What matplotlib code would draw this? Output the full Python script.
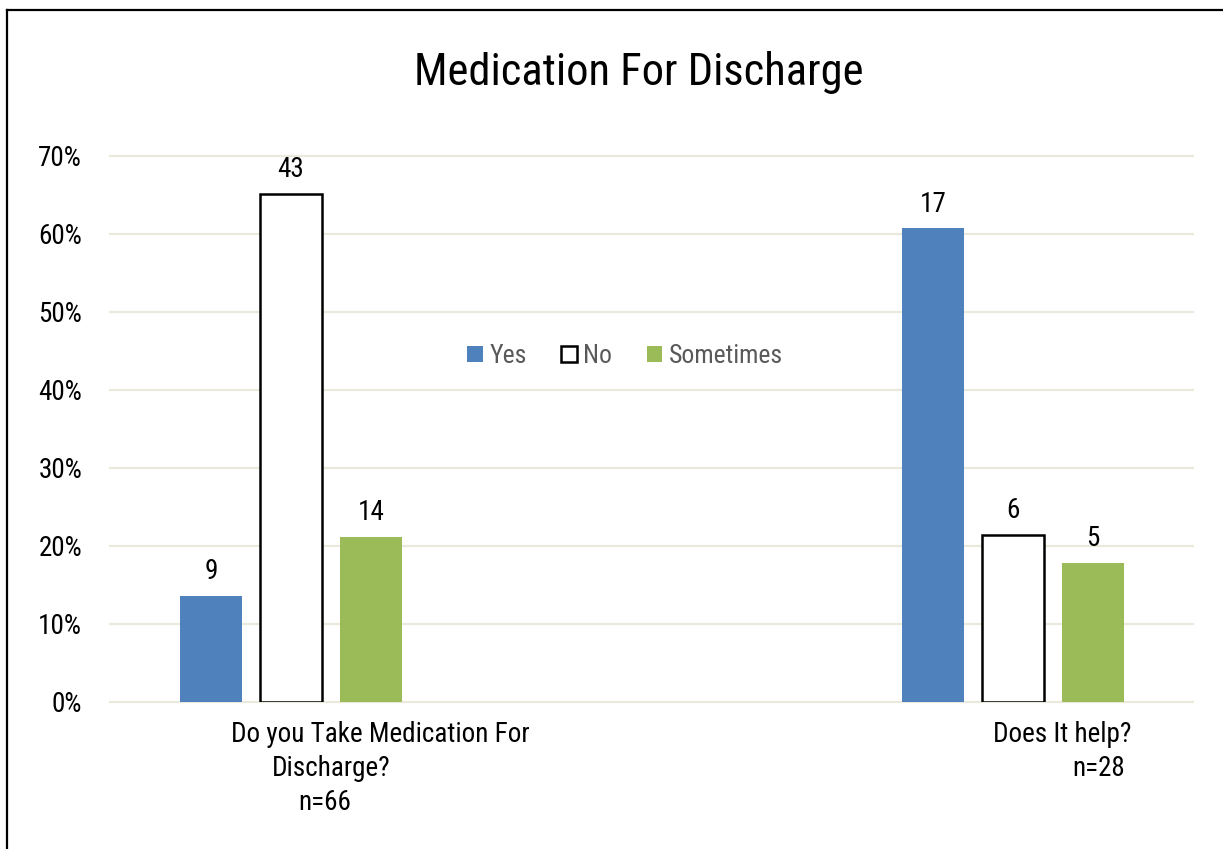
import numpy as np
import matplotlib
matplotlib.use('Agg')
import matplotlib.pyplot as plt
from matplotlib.lines import Line2D

plt.rcParams['font.family'] = ['Roboto Condensed', 'DejaVu Sans']

# data
questions = ['Do you Take Medication For Discharge?', 'Does It help?']
n_resp = [66, 28]
answers = ['Yes', 'No', 'Sometimes']
yes_counts = [9, 17]
no_counts = [43, 6]
some_counts = [14, 5]

colors = ['#4F81BD', '#FFFFFF', '#9BBB59']
edges = ['#4F81BD', '#000000', '#9BBB59']
grid_col = '#EBE8DC'


def main():
    fig = plt.figure(figsize=(12.23, 8.49), dpi=100)
    ax = fig.add_axes([110/1223, 1-702/849, 1083/1223, 546/849])

    x = np.arange(len(questions))
    width = 0.086
    step = 0.111
    series = [yes_counts, no_counts, some_counts]
    for i, counts in enumerate(series):
        pct = np.array(counts) / np.array(n_resp)
        bars = ax.bar(x + (i-1)*step, pct, width, color=colors[i], edgecolor=edges[i],
                      linewidth=1.8 if i == 1 else 0, label=answers[i], zorder=3)
        for b, c in zip(bars, counts):
            ax.annotate(str(c), (b.get_x() + b.get_width()/2, b.get_height()),
                        xytext=(0, 12), textcoords='offset points', ha='center',
                        va='baseline', fontsize=19.5, color='black')

    ax.set_xlim(-0.2507, 1.2493)
    ax.set_ylim(0, 0.7)
    ax.set_yticks(np.arange(0, 0.71, 0.1))
    ax.set_yticklabels(['%d%%' % v for v in range(0, 71, 10)], fontsize=19.5)
    ax.tick_params(axis='y', length=0, pad=20)
    ax.set_xticks([])
    ax.yaxis.grid(True, color=grid_col, linewidth=1.6, zorder=0)
    for s in ax.spines.values():
        s.set_visible(False)
    for sp in ax.get_ygridlines():
        sp.set_clip_on(False)

    # category labels (wrapped like the original)
    lab_lines = [
        [('Do you Take Medication For', 0.124), ('Discharge?', 0.055), ('n=%d' % n_resp[0], 0.047)],
        [(questions[1], 1.068), ('n=%d' % n_resp[1], 1.119)],
    ]
    for lines in lab_lines:
        for k, (txt, xp) in enumerate(lines):
            ax.annotate(txt, (xp, 0), xycoords=('data', 'axes fraction'),
                        xytext=(0, -23.5 - k*24.5), textcoords='offset points',
                        ha='center', va='center', fontsize=19.5)

    leg = ax.legend(loc='center', bbox_to_anchor=(0.4755, 0.634), ncol=3, frameon=False,
                    fontsize=18.5, handlelength=0.6, handleheight=0.6, handletextpad=0.25,
                    columnspacing=1.35)
    for t in leg.get_texts():
        t.set_color('#595959')

    fig.text(639/1223, 1-72/849, 'Medication For Discharge', ha='center', va='center',
             fontsize=32)

    # outer border (left and top edges only visible)
    fig.add_artist(Line2D([7/1223, 7/1223], [0, 1-10/849], color='black', lw=1.6,
                          transform=fig.transFigure))
    fig.add_artist(Line2D([7/1223, 1], [1-10/849, 1-10/849], color='black', lw=1.6,
                          transform=fig.transFigure))

    fig.savefig('out.png', dpi=100)


if __name__ == '__main__':
    main()
